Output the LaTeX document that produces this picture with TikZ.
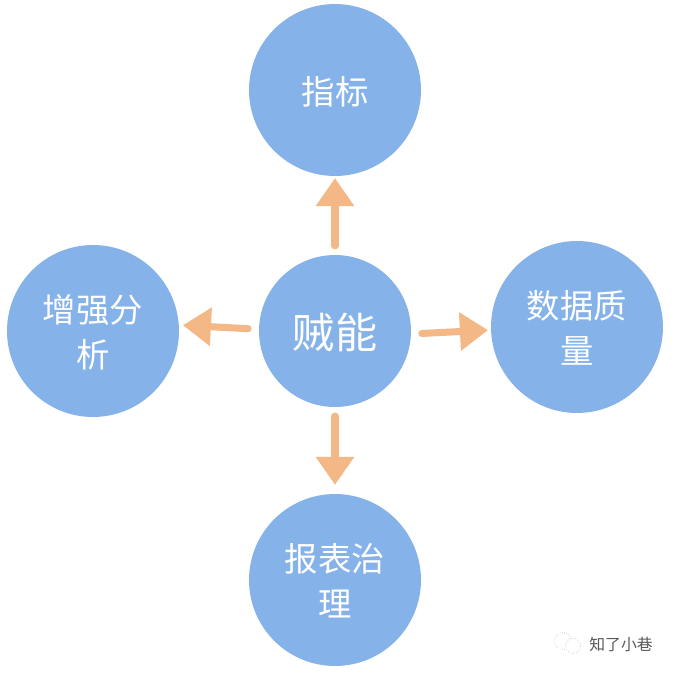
\documentclass[tikz,border=0pt]{standalone}
\usepackage{fontspec}
\usetikzlibrary{arrows.meta,positioning}
\newfontfamily\cjk{Noto Sans CJK SC}
\definecolor{bubble}{HTML}{85B2E9}
\definecolor{pointer}{HTML}{F3B886}

\begin{document}
\begin{tikzpicture}[x = .02cm, y = -.02cm,
  vtx/.style={circle, fill = bubble, text = white, align = center, inner sep = 0pt, minimum size = 3.44cm, text depth = -1.5pt, font = \cjk\fontsize{19}{26}\selectfont},
  hub/.style={vtx, minimum size = 3.04cm, font = \cjk\fontsize{24}{28}\selectfont},
  arw/.style={draw = pointer, line width = 4pt, line cap = round, -{Triangle[width=21pt,length=16pt]}}]
\useasboundingbox (0,0) rectangle (674,674);
\node[hub] (funeng) at (335,331) {贼能};
\node[vtx] (zhibiao) at (335,90) {指标};
\node[vtx] (zengqiang) at (93,331) {增强分\\析};
\node[vtx] (shuju) at (577,327) {数据质\\量};
\node[vtx] (baobiao) at (335,580) {报表治\\理};
\draw[arw, shorten <=5pt, shorten >=1pt] (funeng) -- (zhibiao);
\draw[arw, shorten <=6pt, shorten >=2pt] ([yshift=1pt]funeng.west) -- ([yshift=3.4pt]zengqiang.east);
\draw[arw, shorten <=6pt, shorten >=1.5pt] ([yshift=-1.7pt]funeng.east) -- ([yshift=-1.7pt]shuju.west);
\draw[arw, shorten <=5pt, shorten >=5pt] (funeng) -- (baobiao);
% mark in the corner
\node[circle, draw = gray!70, densely dotted, line width = .3pt, minimum width = .34cm, inner sep = 0pt] (wxa) at (563,641) {};
\node[circle, draw = gray!70, densely dotted, line width = .3pt, minimum width = .3cm, inner sep = 0pt, fill = white] (wxb) at (573,646) {};
\node[text = black!65, font = \cjk\fontsize{9}{11}\selectfont, inner sep = 0pt] (mark) at (621,644) {知了小巷};
\end{tikzpicture}
\end{document}
